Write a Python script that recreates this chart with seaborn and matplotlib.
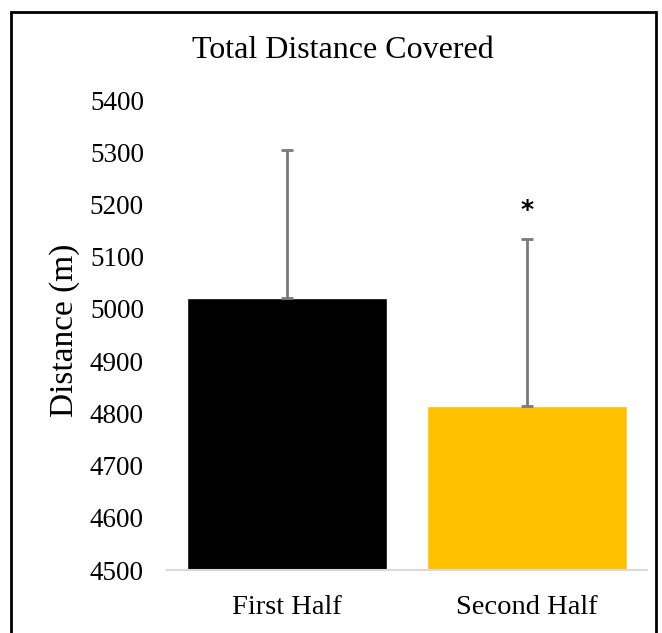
import matplotlib
matplotlib.use('Agg')
import matplotlib.pyplot as plt
import seaborn as sns
import pandas as pd
from matplotlib.patches import Rectangle

# --- data ---
halves = ['First Half', 'Second Half']
mean_distance = [5021, 4814]
sd_distance = [283, 320]
bar_colors = ['#000000', '#FFC000']

df = pd.DataFrame({'half': halves, 'distance': mean_distance})

sns.set_theme(style='white')
plt.rcParams['font.family'] = ['Liberation Serif', 'DejaVu Serif']
plt.rcParams['text.color'] = 'black'
plt.rcParams['xtick.color'] = 'black'
plt.rcParams['ytick.color'] = 'black'
plt.rcParams['axes.labelcolor'] = 'black'

fig = plt.figure(figsize=(6.62, 6.33), dpi=100)
ax = fig.add_axes([0.252, 0.0995, 0.725, 0.7425])

sns.barplot(data=df, x='half', y='distance', hue='half', palette=bar_colors,
            width=0.833, saturation=1, legend=False, ax=ax, zorder=2)

# one-sided (upper) SD error bars
ax.errorbar(range(len(halves)), mean_distance, yerr=[[0] * len(halves), sd_distance],
            fmt='none', ecolor='#7a7a7a', elinewidth=2, capsize=4.5, capthick=2, zorder=3)

# significance marker over second half
ax.text(1, mean_distance[1] + sd_distance[1] + 55, '*', ha='center', va='center',
        fontsize=18, fontweight='bold', family='DejaVu Sans', color='black')

ax.set_ylim(4500, 5400)
ax.set_xlim(-0.5, 1.5)
ax.set_yticks(range(4500, 5401, 100))
ax.tick_params(axis='y', length=0, labelsize=19.5, pad=16.5)
ax.tick_params(axis='x', length=0, labelsize=20.5, pad=18)
ax.set_xlabel('')
ax.set_ylabel('Distance (m)', fontsize=24)
ax.yaxis.set_label_coords(-0.181, 0.51)

fig.text(343 / 662, 1 - 51 / 633, 'Total Distance Covered', ha='center', va='center',
         fontsize=23)

for side in ['left', 'right', 'top']:
    ax.spines[side].set_visible(False)
ax.spines['bottom'].set_color('#d9d9d9')
ax.spines['bottom'].set_linewidth(1.5)

# outer frame (bottom edge falls outside the image)
fig.patches.append(Rectangle((11 / 662, -0.05), (656 - 11) / 662, 1.05 - 12 / 633,
                             transform=fig.transFigure, fill=False,
                             edgecolor='black', linewidth=2))

fig.savefig('out.png', dpi=100)
